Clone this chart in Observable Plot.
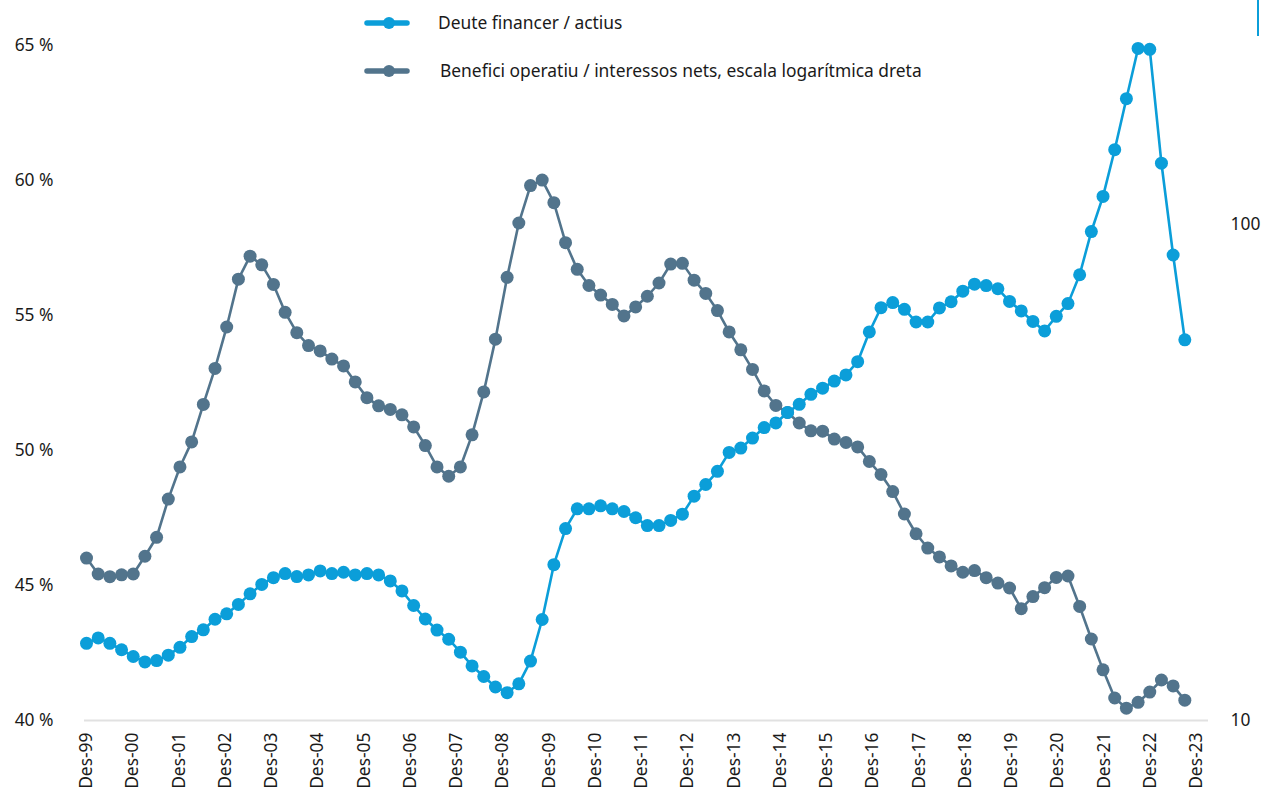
<!DOCTYPE html>
<html>
<head>
<meta charset="utf-8">
<script src="https://cdn.jsdelivr.net/npm/d3@7"></script>
<script src="https://cdn.jsdelivr.net/npm/@observablehq/plot@0.6"></script>
<style>
  body { margin: 0; background: #fff; }
  #wrap { position: relative; width: 1268px; height: 792px; font-family: "Noto Sans", sans-serif; color: #1a1a1a; overflow: hidden; }
  #wrap svg.plot { position: absolute; left: 0; top: 0; }
  .leg { position: absolute; display: flex; align-items: center; font-size: 17.4px; white-space: nowrap; color: #1a1a1a; }
  .leg svg { display: block; }
  #corner { position: absolute; left: 1257px; top: 0; width: 2px; height: 36px; background: #0b9ed9; }
</style>
</head>
<body>
<div id="wrap"></div>
<script>
// Year labels spread evenly along the category axis (Des-99 ... Des-23)
const tickLabels = ["Des-99","Des-00","Des-01","Des-02","Des-03","Des-04","Des-05","Des-06","Des-07","Des-08","Des-09","Des-10","Des-11","Des-12","Des-13","Des-14","Des-15","Des-16","Des-17","Des-18","Des-19","Des-20","Des-21","Des-22","Des-23"];
const axisCategories = 96; // quarterly categories on the axis; data fill the first 95

// Deute financer / actius (%), left axis — quarterly from Des-99
const deuteActius = [
  42.86,43.06,42.86,42.62,42.37,42.17,42.22,42.42,42.71,43.11,43.36,43.75,43.95,44.30,44.69,45.04,
  45.29,45.44,45.33,45.39,45.54,45.44,45.49,45.39,45.44,45.39,45.17,44.80,44.26,43.76,43.35,43.01,
  42.53,42.02,41.63,41.24,41.03,41.36,42.20,43.74,45.77,47.11,47.84,47.84,47.95,47.84,47.74,47.51,
  47.22,47.22,47.41,47.64,48.31,48.74,49.23,49.93,50.09,50.46,50.85,51.02,51.41,51.71,52.08,52.31,
  52.57,52.80,53.29,54.39,55.29,55.48,55.23,54.76,54.76,55.28,55.51,55.90,56.16,56.11,55.99,
  55.52,55.17,54.78,54.43,54.97,55.44,56.51,58.11,59.41,61.14,63.03,64.89,64.86,60.64,57.24,54.10
];

// Benefici operatiu / interessos nets (ratio), right log axis — quarterly from Des-99
const beneficiInteressos = [
  21.26,19.74,19.50,19.67,19.74,21.44,23.41,27.95,32.45,36.45,43.38,51.28,62.15,77.61,86.34,82.95,
  75.72,66.53,60.54,57.02,55.62,53.54,51.87,48.15,44.77,43.09,42.39,41.34,39.08,35.84,32.45,31.08,
  32.45,37.67,45.97,58.74,78.26,100.7,119.8,122.9,110.7,91.93,81.21,75.34,72.06,69.01,65.43,68.22,
  71.68,76.23,83.23,83.50,77.25,72.62,67.08,60.74,55.90,51.04,46.18,43.17,41.78,39.80,38.37,38.31,
  36.93,36.35,35.61,33.28,31.33,28.95,26.08,23.80,22.27,21.37,20.50,19.90,20.06,19.41,18.93,
  18.50,16.81,17.78,18.53,19.43,19.56,16.98,14.60,12.65,11.10,10.59,10.88,11.41,12.07,11.74,10.99
];

const leftTicks = [40, 45, 50, 55, 60, 65];
const rightTicks = [10, 100];
const leftDomain = [40, 65];
const rightDomain = [10, 229.6];

const seriesNames = ["Deute financer / actius", "Benefici operatiu / interessos nets, escala logarítmica dreta"];
const colors = ["#0b9ed9", "#52748c"];

// map right-axis (log) values onto the left axis units
const toLeft = d3.scaleLog().domain(rightDomain).range(leftDomain);

const blue = deuteActius.map((v, i) => ({q: i, v}));
const gray = beneficiInteressos.map((v, i) => ({q: i, v: toLeft(v)}));
const lastCat = axisCategories - 1;
const xTicks = tickLabels.map((_, k) => k * lastCat / (tickLabels.length - 1));

const font = "Noto Sans, sans-serif";
const fs = 17.4;

const chart = Plot.plot({
  width: 1268,
  height: 792,
  marginLeft: 84,
  marginRight: 60,
  marginTop: 45,
  marginBottom: 72,
  style: {fontFamily: font, fontSize: fs + "px", color: "#1a1a1a", background: "transparent"},
  x: {domain: [0, lastCat], insetLeft: 2, insetRight: 12},
  y: {domain: leftDomain},
  marks: [
    Plot.ruleY([40], {stroke: "#e1e1e1", strokeWidth: 2}),
    Plot.axisY(leftTicks, {anchor: "left", tickSize: 0, tickPadding: 31, tickFormat: d => `${d} %`, label: null, fontSize: fs}),
    Plot.axisY(rightTicks.map(toLeft), {anchor: "right", tickSize: 0, tickPadding: 22, tickFormat: (d, i) => String(rightTicks[i]), label: null, fontSize: fs}),
    Plot.axisX(xTicks, {anchor: "bottom", tickSize: 0, tickPadding: 12, tickRotate: -90, tickFormat: (d, i) => tickLabels[i], label: null, fontSize: fs}),
    Plot.line(gray, {x: "q", y: "v", stroke: colors[1], strokeWidth: 2.6}),
    Plot.dot(gray, {x: "q", y: "v", r: 6.5, fill: colors[1]}),
    Plot.line(blue, {x: "q", y: "v", stroke: colors[0], strokeWidth: 2.6}),
    Plot.dot(blue, {x: "q", y: "v", r: 6.5, fill: colors[0]})
  ]
});

const wrap = document.getElementById("wrap");
wrap.appendChild(chart);

// legend
const legendRows = [
  {name: seriesNames[0], color: colors[0], top: 22, textLeft: 438},
  {name: seriesNames[1], color: colors[1], top: 70, textLeft: 440}
];
legendRows.forEach(r => {
  const sym = document.createElement("div");
  sym.style.cssText = `position:absolute;left:364px;top:${r.top - 8}px;width:46px;height:16px;`;
  sym.innerHTML = `<svg width="46" height="16"><line x1="3" y1="8" x2="43" y2="8" stroke="${r.color}" stroke-width="5.5" stroke-linecap="round"/><circle cx="25" cy="8" r="6" fill="${r.color}"/></svg>`;
  wrap.appendChild(sym);
  const t = document.createElement("div");
  t.className = "leg";
  t.style.left = r.textLeft + "px";
  t.style.top = (r.top - 12) + "px";
  t.style.height = "24px";
  t.textContent = r.name;
  wrap.appendChild(t);
});
const corner = document.createElement("div");
corner.id = "corner";
wrap.appendChild(corner);
</script>
</body>
</html>
